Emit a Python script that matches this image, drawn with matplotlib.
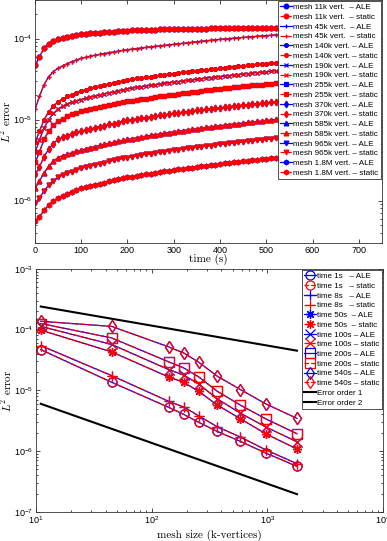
import numpy as np
import matplotlib
matplotlib.use('Agg')
import matplotlib.pyplot as plt

plt.rcParams['font.family'] = ['Liberation Sans', 'DejaVu Sans']
plt.rcParams['mathtext.fontset'] = 'custom'
plt.rcParams['mathtext.rm'] = 'Liberation Sans'
plt.rcParams['mathtext.it'] = 'Liberation Sans:italic'
plt.rcParams['mathtext.bf'] = 'Liberation Sans:bold'

# ---- top panel: L2 error vs time, one curve per mesh (values in 1e-6) ----
t_top = [1] + list(range(10, 541, 10))
mesh_names = ['11k', '45k', '140k', '190k', '255k', '370k', '585k', '965k', '1.8M']
asterisk = (8, 2, 0)
mesh_markers = ['o', '+', asterisk, 'x', 's', 'd', '^', 'v', 'h']

err_11k = [47, 60, 76, 87, 94, 99,
           103, 106, 109, 111, 113,
           114.5, 116, 117.5, 119, 120, 121, 122, 123.5, 125, 126,
           126.6, 127.2, 127.8, 128.3, 128.8, 129.3, 129.8, 130.3, 130.7, 131,
           131.4, 131.7, 132, 132.3, 132.6, 132.9, 133.2, 133.5, 133.8, 134,
           134.2, 134.4, 134.6, 134.8, 135, 135.2, 135.4, 135.6, 135.8, 136, 136.2, 136.4, 136.6, 136.8]
err_45k = [13.6, 19.5, 27, 34, 39, 43,
           46, 49, 52, 54.5, 57,
           58.8, 60.5, 62.2, 63.8, 65.4, 67, 68.5, 70, 71.5, 73,
           74.2, 75.4, 76.6, 77.8, 79, 80.2, 81.4, 82.6, 83.8, 85,
           86.3, 87.6, 88.9, 90.2, 91.5, 92.8, 94.1, 95.4, 96.7, 98,
           99.1, 100.2, 101.3, 102.4, 103.5, 104.6, 105.7, 106.8, 107.9, 109, 110, 111, 112, 113]
err_140k = [5.25, 7.2, 10, 12.5, 14.8, 16.6,
            18, 19.3, 20.4, 21.5, 22.5,
            23.4, 24.3, 25.2, 26, 26.8, 27.6, 28.4, 29.2, 30.1, 31,
            31.6, 32.2, 32.8, 33.4, 34, 34.6, 35.2, 35.8, 36.4, 37,
            37.6, 38.2, 38.8, 39.4, 40, 40.6, 41.2, 41.8, 42.4, 43,
            43.6, 44.2, 44.8, 45.4, 46, 46.6, 47.3, 48, 48.6, 49.2, 49.9, 50.6, 51.3, 52]
err_190k = [4.0, 5.6, 7.9, 10, 11.9, 13.5,
            14.6, 15.5, 16.3, 17, 17.7,
            18.3, 18.9, 19.5, 20.1, 20.7, 21.3, 21.9, 22.5, 23.2, 24,
            24.5, 25, 25.5, 26, 26.5, 27, 27.5, 28, 28.5, 29,
            29.5, 30, 30.5, 31, 31.5, 32, 32.5, 33, 33.5, 34,
            34.5, 35, 35.5, 36, 36.5, 37, 37.5, 38, 38.5, 39, 39.5, 40, 40.5, 41]
err_255k = [2.97, 4.0, 5.7, 7.2, 8.5, 9.6,
            10.3, 11, 11.6, 12.2, 12.7,
            13.1, 13.5, 13.9, 14.3, 14.7, 15.1, 15.5, 15.9, 16.3, 16.8,
            17.2, 17.5, 17.9, 18.2, 18.6, 18.9, 19.3, 19.7, 20, 20.4,
            20.7, 21.1, 21.4, 21.8, 22.2, 22.5, 22.9, 23.2, 23.6, 23.9,
            24.3, 24.6, 25, 25.3, 25.7, 26.1, 26.4, 26.8, 27.1, 27.5, 27.8, 28.2, 28.6, 29]
err_370k = [2.1, 2.6, 3.5, 4.3, 5.05, 5.7,
            6.05, 6.35, 6.65, 6.95, 7.2,
            7.45, 7.7, 7.95, 8.2, 8.45, 8.7, 8.95, 9.2, 9.5, 9.8,
            10, 10.2, 10.4, 10.6, 10.8, 11.1, 11.3, 11.5, 11.7, 11.9,
            12.1, 12.3, 12.5, 12.8, 13, 13.2, 13.4, 13.6, 13.8, 14,
            14.2, 14.5, 14.7, 14.9, 15.1, 15.3, 15.5, 15.7, 15.9, 16.1, 16.4, 16.6, 16.8, 17]
err_585k = [1.44, 1.75, 2.2, 2.65, 3.05, 3.4,
            3.58, 3.74, 3.9, 4.05, 4.2,
            4.35, 4.5, 4.65, 4.8, 4.95, 5.1, 5.25, 5.4, 5.55, 5.7,
            5.83, 5.97, 6.1, 6.24, 6.38, 6.51, 6.65, 6.78, 6.92, 7.05,
            7.19, 7.32, 7.46, 7.6, 7.73, 7.87, 8, 8.14, 8.27, 8.41,
            8.54, 8.68, 8.82, 8.95, 9.09, 9.22, 9.36, 9.49, 9.63, 9.76, 9.9, 10.03, 10.17, 10.3]
err_965k = [0.93, 1.08, 1.32, 1.55, 1.75, 1.93,
            2.05, 2.17, 2.28, 2.39, 2.5,
            2.59, 2.68, 2.77, 2.86, 2.95, 3.04, 3.13, 3.22, 3.31, 3.4,
            3.48, 3.55, 3.63, 3.71, 3.78, 3.86, 3.94, 4.01, 4.09, 4.17,
            4.24, 4.32, 4.4, 4.47, 4.55, 4.63, 4.7, 4.78, 4.86, 4.93,
            5.01, 5.09, 5.16, 5.24, 5.32, 5.39, 5.47, 5.55, 5.62, 5.7, 5.77, 5.85, 5.93, 6.0]
err_1800k = [0.56, 0.63, 0.76, 0.88, 0.99, 1.08,
             1.15, 1.22, 1.29, 1.36, 1.42,
             1.47, 1.52, 1.57, 1.62, 1.67, 1.73, 1.78, 1.83, 1.88, 1.93,
             1.97, 2.02, 2.06, 2.11, 2.15, 2.2, 2.24, 2.29, 2.33, 2.38,
             2.42, 2.47, 2.51, 2.56, 2.6, 2.65, 2.69, 2.74, 2.78, 2.83,
             2.87, 2.92, 2.96, 3.01, 3.05, 3.09, 3.14, 3.18, 3.23, 3.27, 3.32, 3.36, 3.41, 3.45]
top_series = [err_11k, err_45k, err_140k, err_190k, err_255k,
              err_370k, err_585k, err_965k, err_1800k]

# ---- bottom panel: L2 error vs mesh size at fixed times (values in 1e-6) ----
mesh_size = [11, 45, 140, 190, 255, 370, 585, 965, 1800]
time_names = ['1s  ', '8s  ', '50s ', '100s', '200s', '540s']
time_markers = ['o', '+', asterisk, 'x', 's', 'd']
err_t1 = [46.8, 13.6, 5.25, 4.0, 2.97, 2.1, 1.44, 0.93, 0.56]
err_t8 = [54.5, 17.5, 6.6, 5.3, 3.8, 2.5, 1.7, 1.05, 0.62]
err_t50 = [98, 43, 16.6, 13.5, 9.6, 5.7, 3.4, 1.93, 1.08]
err_t100 = [113, 57, 22, 17.7, 12.7, 7.2, 4.2, 2.5, 1.42]
err_t200 = [126, 73, 29.5, 23.3, 16.6, 9.6, 5.7, 3.4, 1.93]
err_t540 = [137, 113, 52, 41, 29, 17, 10.3, 6.0, 3.45]
bottom_series = [err_t1, err_t8, err_t50, err_t100, err_t200, err_t540]

ref_size = [11, 1800]
ref_order1 = [2.4e-4, 4.5e-5]
ref_order2 = [6.0e-6, 1.95e-7]

fig = plt.figure(figsize=(3.87, 5.41), dpi=100)
ax1 = fig.add_axes([0.090, 0.551, 0.897, 0.449])
ax2 = fig.add_axes([0.093, 0.054, 0.897, 0.449])

for name, mk, vals in zip(mesh_names, mesh_markers, top_series):
    y = np.array(vals) * 1e-6
    pad = ' ' if len(name) < 4 else ''
    ax1.plot(t_top, y, '-', color='b', marker=mk, ms=3.4, mew=0.9, lw=0.9,
             label='mesh %s vert. %s– ALE' % (name, pad))
    ax1.plot(t_top, y, '--', color='r', marker=mk, ms=3.4, mew=0.9, lw=0.9,
             label='mesh %s vert. %s– static' % (name, pad))

for name, mk, vals in zip(time_names, time_markers, bottom_series):
    y = np.array(vals) * 1e-6
    ax2.plot(mesh_size, y, '-', color='b', marker=mk, ms=6.5, mew=0.9, lw=0.9,
             mfc='none', label='time %s – ALE' % name)
    ax2.plot(mesh_size, y, '--', color='r', marker=mk, ms=6.5, mew=0.9, lw=0.9,
             mfc='none', label='time %s – static' % name)
ax2.plot(ref_size, ref_order1, 'k-', lw=1.5, label='Error order 1')
ax2.plot(ref_size, ref_order2, 'k-', lw=1.5, label='Error order 2')

for ax in (ax1, ax2):
    ax.set_yscale('log')
    ax.tick_params(which='both', direction='in', top=True, right=True,
                   labelsize=6.5, width=0.5, pad=2)
    ax.tick_params(which='major', length=3)
    ax.tick_params(which='minor', length=1.6)
    for s in ax.spines.values():
        s.set_linewidth(0.6)
        s.set_color('0.2')

ax1.set_xlim(0, 750)
ax1.set_ylim(3e-7, 3e-4)
ax1.set_xticks(range(0, 701, 100))
ax1.set_xlabel('time (s)', fontfamily='cmr10', fontsize=8)
ax1.set_ylabel('$L^2$ error', fontfamily='cmr10', math_fontfamily='cm', fontsize=8)
ax1.xaxis.set_label_coords(0.5, -0.046)
ax1.yaxis.set_label_coords(-0.062, 0.5)

ax2.set_xscale('log')
ax2.set_xlim(10, 1e4)
ax2.set_ylim(1e-7, 1e-3)
ax2.set_xlabel('mesh size (k-vertices)', fontfamily='cmr10', fontsize=8)
ax2.set_ylabel('$L^2$ error', fontfamily='cmr10', math_fontfamily='cm', fontsize=8)
ax2.xaxis.set_label_coords(0.5, -0.075)
ax2.yaxis.set_label_coords(-0.064, 0.5)

leg_kw = dict(fontsize=5.8, fancybox=False, framealpha=1, edgecolor='0.2',
              borderpad=0.3, labelspacing=0.26, handlelength=1.4,
              handletextpad=0.2, borderaxespad=0.15)
l1 = ax1.legend(loc='upper right', **leg_kw)
l2 = ax2.legend(loc='upper right', **leg_kw)
for l in (l1, l2):
    l.get_frame().set_linewidth(0.6)

fig.savefig('out.png', dpi=100)
